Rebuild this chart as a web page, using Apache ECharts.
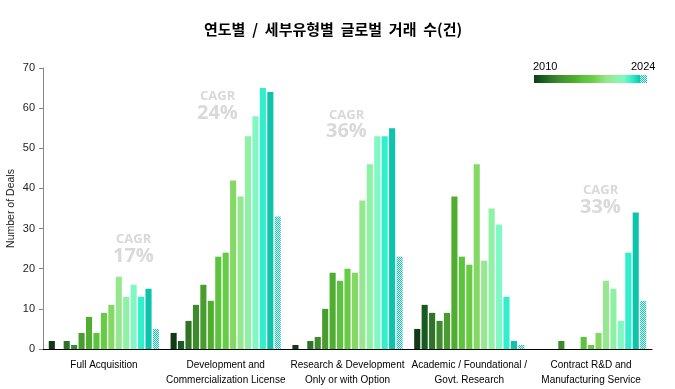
<!DOCTYPE html>
<html><head><meta charset="utf-8">
<script src="https://cdn.jsdelivr.net/npm/echarts@6/dist/echarts.min.js"></script>
<style>html,body{margin:0;padding:0;background:#fff}#c{width:675px;height:389px}</style>
</head><body><div id="c"></div>
<script>
const categories = ['Full Acquisition', 'Development and\nCommercialization License', 'Research & Development\nOnly or with Option', 'Academic / Foundational /\nGovt. Research', 'Contract R&D and\nManufacturing Service'];
const years = ['2010','2011','2012','2013','2014','2015','2016','2017','2018','2019','2020','2021','2022','2023','2024'];
const fullAcquisition = [2,0,2,1,4,8,4,9,11,18,13,16,13,15,5];
const developmentLicense = [4,2,7,11,16,12,23,24,42,38,53,58,65,64,33];
const researchOption = [1,0,2,3,10,19,17,20,19,37,46,53,53,55,23];
const academicResearch = [5,11,9,7,9,38,23,21,46,22,35,31,13,2,1];
const contractService = [0,0,0,2,0,0,3,1,4,17,15,7,24,34,12];
const cagrLabels = ['17%','24%','36%','','33%'];
const yearColors = ['#113a16','#165c20','#2e7326','#3d8c2b','#479d2d','#4fad2f','#5cc43c','#66cc44','#84d964','#96e890','#8ef2a4','#80f8c4','#30f0cc','#0cc4ac','#20c0b0'];

const groups = [fullAcquisition, developmentLicense, researchOption, academicResearch, contractService];

// hatched pattern for 2024
const pc = document.createElement('canvas');
pc.width = 2; pc.height = 2;
const pctx = pc.getContext('2d');
pctx.fillStyle = '#d8f5f0'; pctx.fillRect(0,0,2,2);
pctx.fillStyle = '#22c0b0'; pctx.fillRect(0,0,1,1); pctx.fillRect(1,1,1,1);

const series = years.map((y, i) => ({
  name: y,
  type: 'bar',
  barGap: '22%',
  barCategoryGap: '9.5%',
  data: groups.map(g => g[i]),
  itemStyle: { color: i === years.length - 1 ? { image: pc, repeat: 'repeat' } : yearColors[i] },
  emphasis: { disabled: true }
}));

const chart = echarts.init(document.getElementById('c'));
const cagrPos = [[133,240,257],[217,97,114],[346,116,132],null,[600,191,208]];
const graphics = [];
cagrPos.forEach((p, k) => {
  if (!p) return;
  graphics.push({ type:'text', left: p[0]-17, top: p[1]-7, style:{ text:'CAGR', fill:'#d9d9d9', font:'bold 13px "Open Sans", sans-serif', textAlign:'left' } });
  graphics.push({ type:'text', left: p[0]-20, top: p[2]-11, style:{ text: cagrLabels[k], fill:'#d9d9d9', font:'bold 20px "Open Sans", sans-serif' } });
});
const gradStops = yearColors.slice(0,14).map((c, i) => ({ offset: i/13, color: c }));
graphics.push({ type:'rect', shape:{ x:534, y:75, width:106, height:8 }, style:{ fill: new echarts.graphic.LinearGradient(0,0,1,0, gradStops) } });
graphics.push({ type:'rect', shape:{ x:640, y:75, width:7, height:8 }, style:{ fill: { image: pc, repeat: 'repeat' } } });
graphics.push({ type:'text', x:533, y:61, style:{ text:'2010', fill:'#000', font:'11px "Liberation Sans", sans-serif' } });
graphics.push({ type:'text', x:631, y:61, style:{ text:'2024', fill:'#000', font:'11px "Liberation Sans", sans-serif' } });

chart.setOption({
  animation: false,
  title: { text: '연도별  /  세부유형별  글로벌  거래  수(건)', left: 199, top: 17,
    textStyle: { fontFamily: '"Noto Sans CJK KR", sans-serif', fontSize: 15, fontWeight: 'bold', color: '#000' } },
  grid: { left: 43, right: 23, top: 68, bottom: 40, containLabel: false, outerBoundsMode: 'none' },
  xAxis: { type: 'category', data: categories,
    axisLine: { lineStyle: { color: '#000', width: 1 } },
    axisTick: { show: false },
    axisLabel: { interval: 0, color: '#000', fontSize: 10, lineHeight: 15, margin: 9,
      fontFamily: '"Liberation Sans", sans-serif' } },
  yAxis: { type: 'value', min: 0, max: 70, interval: 10,
    name: 'Number of Deals', nameLocation: 'middle', nameGap: 26, nameMoveOverlap: false,
    nameTextStyle: { fontSize: 10.5, color: '#222', fontFamily: '"Liberation Sans", sans-serif' },
    axisLine: { show: true, lineStyle: { color: '#888' } },
    axisTick: { show: true, length: 4, lineStyle: { color: '#888' } },
    splitLine: { show: false },
    axisLabel: { color: '#222', fontSize: 11, margin: 8, fontFamily: '"Liberation Sans", sans-serif' } },
  series: series,
  graphic: graphics
});
</script></body></html>
